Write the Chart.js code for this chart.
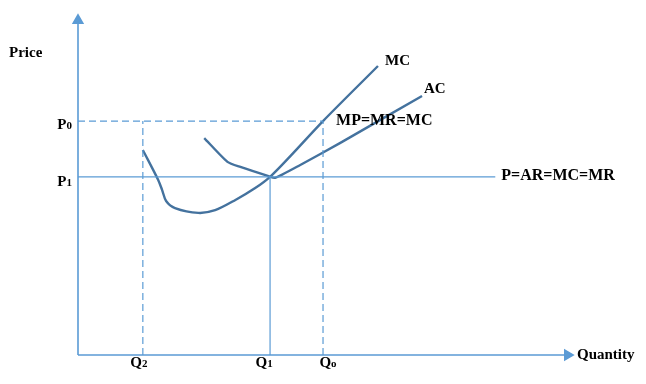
<!DOCTYPE html>
<html>
<head>
<meta charset="utf-8">
<script src="https://cdn.jsdelivr.net/npm/chart.js@4"></script>
<style>
  html, body { margin: 0; padding: 0; background: #fff; }
  #wrap { width: 646px; height: 384px; position: relative; }
</style>
</head>
<body>
<div id="wrap"><canvas id="c"></canvas></div>
<script>
// Quantity / price levels (axis units 0..100)
const quantityLevels = { Q2: 13.1, Q1: 38.8, Q0: 49.5 };
const priceLevels = { P0: 68.8, P1: 52.4 };
const priceLineEnd = 84.3;

// MC curve (quantity, price)
const mcQuantity = [13.1, 16.2, 17.0, 17.8, 19.6, 24.3, 27.7, 31.8, 35.8, 38.8, 42.9, 49.5, 60.6];
const mcPrice    = [60.3, 51.5, 48.5, 45.3, 43.2, 41.8, 42.6, 45.6, 49.1, 52.4, 58.5, 68.8, 85.0];

// AC curve (quantity, price)
const acQuantity = [25.5, 30.2, 32.8, 38.5, 39.8, 44.9, 53.0, 69.5];
const acPrice    = [63.8, 56.8, 55.3, 52.6, 52.1, 55.9, 62.4, 76.2];

const curveColor = '#44729E';
const axisColor = '#5B9BD5';

const pts = (xs, ys) => xs.map((x, i) => ({ x, y: ys[i] }));

const labelPlugin = {
  id: 'labels',
  afterDatasetsDraw(chart) {
    const { ctx, scales: { x, y }, chartArea } = chart;
    ctx.save();
    ctx.fillStyle = '#000';
    ctx.textBaseline = 'alphabetic';
    const bold = '700 15px "Liberation Serif", "Times New Roman", serif';
    const big = '700 16px "Liberation Serif", "Times New Roman", serif';
    const sub = '700 11px "Liberation Serif", "Times New Roman", serif';
    function plain(t, px, py, f) { ctx.font = f || bold; ctx.textAlign = 'left'; ctx.fillText(t, px, py); }
    function subbed(main, s, px, py, align) {
      ctx.font = bold; const w1 = ctx.measureText(main).width;
      ctx.font = sub; const w2 = ctx.measureText(s).width;
      let left = px;
      if (align === 'right') left = px - w1 - w2;
      if (align === 'center') left = px - (w1 + w2) / 2;
      ctx.textAlign = 'left';
      ctx.font = bold; ctx.fillText(main, left, py);
      ctx.font = sub; ctx.fillText(s, left + w1, py);
    }
    plain('Price', 9, 57);
    plain('Quantity', chartArea.right + 4, y.getPixelForValue(0) + 4);
    subbed('P', '0', chartArea.left - 6, y.getPixelForValue(priceLevels.P0) + 8, 'right');
    subbed('P', '1', chartArea.left - 6, y.getPixelForValue(priceLevels.P1) + 9, 'right');
    const by = y.getPixelForValue(0) + 12;
    subbed('Q', '2', x.getPixelForValue(quantityLevels.Q2) - 4, by, 'center');
    subbed('Q', '1', x.getPixelForValue(quantityLevels.Q1) - 6, by, 'center');
    subbed('Q', 'o', x.getPixelForValue(quantityLevels.Q0) + 5, by, 'center');
    const mcEnd = mcQuantity.length - 1, acEnd = acQuantity.length - 1;
    plain('MC', x.getPixelForValue(mcQuantity[mcEnd]) + 7, y.getPixelForValue(mcPrice[mcEnd]) - 1);
    plain('AC', x.getPixelForValue(acQuantity[acEnd]) + 2, y.getPixelForValue(acPrice[acEnd]) - 3);
    plain('MP=MR=MC', x.getPixelForValue(quantityLevels.Q0) + 13, y.getPixelForValue(priceLevels.P0) + 4, big);
    plain('P=AR=MC=MR', x.getPixelForValue(priceLineEnd) + 6, y.getPixelForValue(priceLevels.P1) + 3, big);
    ctx.restore();
  }
};

const thin = { showLine: true, pointRadius: 0, fill: false, borderColor: axisColor, backgroundColor: axisColor };

new Chart(document.getElementById('c'), {
  type: 'scatter',
  data: {
    datasets: [
      // y axis with arrow
      { ...thin, borderWidth: 1.6, clip: false,
        data: [{ x: 0, y: 0 }, { x: 0, y: 100 }, { x: 0, y: 98.4 }],
        pointRadius: [0, 0, 5.5], pointStyle: 'triangle', rotation: 0 },
      // x axis with arrow
      { ...thin, borderWidth: 1.6, clip: false,
        data: [{ x: 0, y: 0 }, { x: 100, y: 0 }, { x: 98.9, y: 0 }],
        pointRadius: [0, 0, 5.5], pointStyle: 'triangle', rotation: 90 },
      // P0 dashed
      { ...thin, borderWidth: 1.2, borderDash: [7, 4],
        data: [{ x: 0, y: priceLevels.P0 }, { x: quantityLevels.Q0, y: priceLevels.P0 }] },
      // Q2 dashed
      { ...thin, borderWidth: 1.2, borderDash: [7, 4],
        data: [{ x: quantityLevels.Q2, y: 0 }, { x: quantityLevels.Q2, y: priceLevels.P0 }] },
      // Q0 dashed
      { ...thin, borderWidth: 1.2, borderDash: [7, 4],
        data: [{ x: quantityLevels.Q0, y: 0 }, { x: quantityLevels.Q0, y: priceLevels.P0 }] },
      // P1 solid
      { ...thin, borderWidth: 1.2,
        data: [{ x: 0, y: priceLevels.P1 }, { x: priceLineEnd, y: priceLevels.P1 }] },
      // Q1 solid
      { ...thin, borderWidth: 1.2,
        data: [{ x: quantityLevels.Q1, y: 0 }, { x: quantityLevels.Q1, y: priceLevels.P1 }] },
      // MC
      { showLine: true, pointRadius: 0, borderColor: curveColor, borderWidth: 2.4,
        tension: 0.3, data: pts(mcQuantity, mcPrice) },
      // AC
      { showLine: true, pointRadius: 0, borderColor: curveColor, borderWidth: 2.4,
        tension: 0.2, data: pts(acQuantity, acPrice) }
    ]
  },
  options: {
    responsive: true,
    maintainAspectRatio: false,
    animation: false,
    events: [],
    layout: { padding: { left: 78, right: 73, top: 15, bottom: 29 } },
    plugins: { legend: { display: false }, tooltip: { enabled: false } },
    scales: {
      x: { type: 'linear', min: 0, max: 100, display: false },
      y: { type: 'linear', min: 0, max: 100, display: false }
    }
  },
  plugins: [labelPlugin]
});
</script>
</body>
</html>
